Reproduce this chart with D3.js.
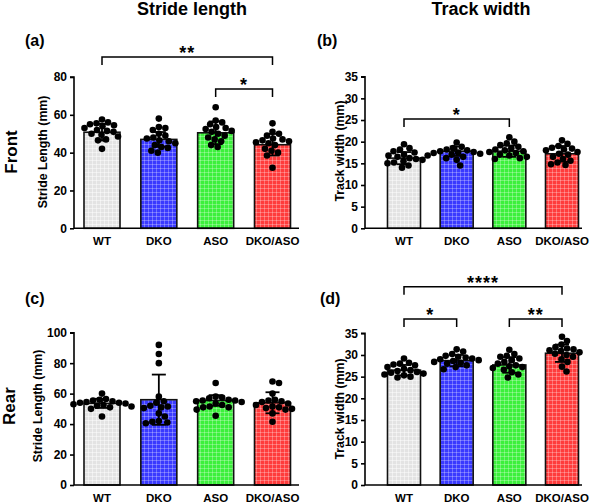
<!DOCTYPE html>
<html><head><meta charset="utf-8">
<script src="https://cdn.jsdelivr.net/npm/d3@7"></script>
<style>
body{margin:0;background:#fff;}
text{font-family:"Liberation Sans",Arial,sans-serif;font-weight:bold;fill:#000;}
</style></head>
<body><svg id="c" width="600" height="504"></svg>
<script>
// ---------- DATA ----------
const categories = ["WT", "DKO", "ASO", "DKO/ASO"];

// (a) Front stride length (mm)
const frontStridePoints = [
  [57.5, 56, 55.5, 55, 54.5, 54, 53, 52, 51.5, 51, 50, 49.5, 48.5, 47, 46.5, 42],
  [58, 53.5, 53, 52, 50, 49, 48, 47.5, 46.5, 46, 45, 44, 43, 42.5, 41, 40],
  [64, 57, 56, 55, 53.5, 53, 52.5, 51.5, 51, 50, 49, 48, 47, 46, 44, 43],
  [55.5, 51, 50, 49, 47.5, 47, 46.5, 46, 45.5, 45, 44, 42, 41, 40, 38.5, 32]
];
const frontStrideMean = [50.8, 47.0, 50.5, 44.2];
const frontStrideSD = [4.4, 3.9, 6.0, 5.7];

// (b) Front track width (mm)
const frontTrackPoints = [
  [19.4, 18.5, 18.2, 17.8, 17.5, 17, 16.8, 16.5, 16.2, 16, 15.8, 15.5, 15.2, 15, 14.5, 14],
  [19.8, 18.8, 18.5, 18.2, 18, 17.8, 17.6, 17.5, 17.4, 17.2, 17, 16.8, 16.5, 16.2, 15.8, 14.5],
  [21, 20, 19.6, 19.2, 18.8, 18.5, 18.2, 18, 17.8, 17.6, 17.4, 17, 16.8, 16.5, 16.2, 16],
  [20.3, 19.5, 19, 18.6, 18.4, 18.2, 18, 17.6, 17.2, 17, 16.5, 16, 15.6, 15.2, 14.8, 14.6]
];
const frontTrackMean = [16.2, 17.8, 17.8, 17.2];
const frontTrackSD = [1.4, 1.1, 1.3, 1.8];

// (c) Rear stride length (mm)
const rearStridePoints = [
  [60, 56.5, 56, 55.5, 55, 54.5, 54, 54, 53.5, 53, 52.5, 52, 51.5, 51, 50, 45],
  [92, 86, 80, 58, 55, 54, 52, 51.5, 51, 50.5, 47, 45, 42, 41.5, 41, 40.5],
  [67, 58, 57.5, 57, 56, 55.5, 55.5, 55, 54.5, 53.5, 52.5, 51.5, 51, 51, 49.5, 45.5],
  [68, 67, 60, 56, 55.5, 55, 54.5, 53.5, 52.5, 51.5, 51, 50.5, 50, 49.5, 47, 41.5]
];
const rearStrideMean = [53.6, 56.0, 55.5, 54.0];
const rearStrideSD = [3.0, 16.5, 3.5, 6.9];

// (d) Rear track width (mm)
const rearTrackPoints = [
  [29.2, 28.2, 28, 27.8, 27.6, 27.2, 26.8, 26.5, 26.3, 26.1, 25.9, 25.7, 25.5, 25.3, 25, 24.8],
  [31.3, 30.8, 30.2, 29.8, 29.6, 29.4, 29.2, 29, 28.8, 28.6, 28.4, 28.2, 28, 27.6, 27.2, 26.7],
  [31.2, 30.2, 29.8, 29.6, 29.2, 28.8, 28.4, 28, 27.6, 27.4, 27.2, 27, 26.6, 26, 25.5, 24.8],
  [34.2, 33.2, 32.4, 31.8, 31.5, 31.3, 31.1, 30.9, 30.6, 30.3, 30, 29.6, 29, 28.4, 27.3, 26.2]
];
const rearTrackMean = [26.5, 28.7, 27.7, 30.4];
const rearTrackSD = [1.2, 1.3, 1.8, 2.0];

const strideTicks = {front: [0, 20, 40, 60, 80], rear: [0, 20, 40, 60, 80, 100]};
const trackTicks = [0, 5, 10, 15, 20, 25, 30, 35];

// significance brackets: [fromIndex, toIndex, label, level]
const sigA = [[0, 3, "**", 0], [2, 3, "*", 1]];
const sigB = [[0, 2, "*", 0]];
const sigC = [];
const sigD = [[0, 3, "****", 0], [0, 1, "*", 1], [2, 3, "**", 1]];

// ---------- STYLE ----------
const fills = ["#e3e3e3", "#3a3aff", "#3cf03c", "#ff3c3c"];
const svg = d3.select("#c");
const defs = svg.append("defs");
fills.forEach((c, i) => {
  const p = defs.append("pattern").attr("id", "pat" + i)
    .attr("patternUnits", "userSpaceOnUse").attr("width", 4).attr("height", 4);
  p.append("rect").attr("width", 4).attr("height", 4).attr("fill", c);
  p.append("path").attr("d", "M0,0.5H4M0.5,0V4").attr("stroke", "#fff")
    .attr("stroke-width", 0.8).attr("stroke-opacity", i === 0 ? 0.6 : 0.35);
});

function panel(cfg) {
  const g = svg.append("g");
  const y = d3.scaleLinear().domain([0, cfg.max]).range([cfg.y0, cfg.y1]);
  const x = d3.scalePoint().domain(categories).range([cfg.c0, cfg.c1]);

  // bars
  g.selectAll("rect.bar").data(cfg.mean).enter().append("rect")
    .attr("x", (d, i) => x(categories[i]) - cfg.bw / 2)
    .attr("y", d => y(d))
    .attr("width", cfg.bw)
    .attr("height", d => y(0) - y(d))
    .attr("fill", (d, i) => "url(#pat" + i + ")")
    .attr("stroke", "#111").attr("stroke-width", 1.6);

  // dots (beeswarm)
  const r = 3.3;
  cfg.points.forEach((vals, i) => {
    const cx = x(categories[i]);
    const placed = [];
    vals.slice().sort((a, b) => b - a).forEach(v => {
      const py = y(v);
      let off = 0;
      for (let k = 0; k < 200; k++) {
        const cand = (k % 2 ? 1 : -1) * Math.ceil(k / 2) * 0.5;
        const ok = placed.every(p => Math.hypot(p[0] - cand, p[1] - py) >= 2 * r * 0.98);
        if (ok) { off = cand; break; }
      }
      placed.push([off, py]);
    });
    g.selectAll(null).data(placed).enter().append("circle")
      .attr("cx", p => cx + p[0]).attr("cy", p => p[1]).attr("r", r).attr("fill", "#000");
  });

  // error bars
  cfg.mean.forEach((m, i) => {
    const cx = x(categories[i]);
    const s = cfg.sd[i];
    const eg = g.append("g").attr("stroke", "#000").attr("stroke-width", 1.8);
    eg.append("line").attr("x1", cx).attr("x2", cx).attr("y1", y(m + s)).attr("y2", y(m - s));
    eg.append("line").attr("x1", cx - 7).attr("x2", cx + 7).attr("y1", y(m + s)).attr("y2", y(m + s));
    eg.append("line").attr("x1", cx - 7).attr("x2", cx + 7).attr("y1", y(m - s)).attr("y2", y(m - s));
  });

  // axes
  const ya = d3.axisLeft(y).tickValues(cfg.ticks).tickSize(4).tickPadding(3);
  const yg = g.append("g").attr("transform", `translate(${cfg.ax},0)`).call(ya);
  yg.select(".domain").attr("stroke-width", 1.6).attr("d", `M-4,${y(cfg.max)}H0V${y(0)}`);
  yg.selectAll(".tick line").attr("stroke-width", 1.6);
  yg.selectAll(".tick text").style("font-size", "12px").style("font-weight", "bold")
    .style("font-family", '"Liberation Sans",Arial,sans-serif');
  g.append("line").attr("x1", cfg.ax).attr("x2", cfg.axEnd).attr("y1", y(0)).attr("y2", y(0))
    .attr("stroke", "#000").attr("stroke-width", 1.6);
  g.selectAll("text.cat").data(categories).enter().append("text")
    .attr("x", d => x(d)).attr("y", y(0) + 17).attr("text-anchor", "middle")
    .style("font-size", "11.5px").text(d => d);
  // y label
  g.append("text").attr("transform", `translate(${cfg.lx},${cfg.ly}) rotate(-90)`)
    .attr("text-anchor", "middle").style("font-size", "12.3px").text(cfg.ylab);
  // panel letter
  g.append("text").attr("x", cfg.px).attr("y", cfg.py).style("font-size", "16px").text(cfg.letter);

  // brackets
  cfg.sig.forEach(s => {
    const by = cfg.sigY[s[3]];
    const xa = x(categories[s[0]]), xb = x(categories[s[1]]);
    g.append("path").attr("d", `M${xa},${by + 8}V${by}H${xb}V${by + 8}`)
      .attr("fill", "none").attr("stroke", "#000").attr("stroke-width", 1.5);
    g.append("text").attr("x", (xa + xb) / 2).attr("y", by + 2).attr("text-anchor", "middle")
      .style("font-size", "18px").attr("letter-spacing", "1px").text(s[2]);
  });
}

panel({points: frontStridePoints, mean: frontStrideMean, sd: frontStrideSD, max: 80, ticks: strideTicks.front,
  y0: 228.3, y1: 77, c0: 102, c1: 272.5, bw: 36, ax: 74, axEnd: 299, lx: 47, ly: 152,
  ylab: "Stride Length (mm)", letter: "(a)", px: 25, py: 46, sig: sigA, sigY: [57, 89]});
panel({points: frontTrackPoints, mean: frontTrackMean, sd: frontTrackSD, max: 35, ticks: trackTicks,
  y0: 228.3, y1: 76.7, c0: 404, c1: 562, bw: 33, ax: 365, axEnd: 582, lx: 344, ly: 151,
  ylab: "Track width (mm)", letter: "(b)", px: 317, py: 46, sig: sigB, sigY: [119]});
panel({points: rearStridePoints, mean: rearStrideMean, sd: rearStrideSD, max: 100, ticks: strideTicks.rear,
  y0: 485, y1: 332.7, c0: 102, c1: 272.5, bw: 36, ax: 74, axEnd: 299, lx: 42, ly: 406,
  ylab: "Stride Length (mm)", letter: "(c)", px: 25, py: 304, sig: sigC, sigY: []});
panel({points: rearTrackPoints, mean: rearTrackMean, sd: rearTrackSD, max: 35, ticks: trackTicks,
  y0: 485, y1: 333.3, c0: 404, c1: 562, bw: 33, ax: 365, axEnd: 582, lx: 344, ly: 409,
  ylab: "Track width (mm)", letter: "(d)", px: 320, py: 304, sig: sigD, sigY: [286.7, 319]});

// column / row titles
svg.append("text").attr("x", 192).attr("y", 15).attr("text-anchor", "middle").style("font-size", "18px").text("Stride length");
svg.append("text").attr("x", 481).attr("y", 15).attr("text-anchor", "middle").style("font-size", "18px").text("Track width");
svg.append("text").attr("transform", "translate(17,152) rotate(-90)").attr("text-anchor", "middle").style("font-size", "17px").text("Front");
svg.append("text").attr("transform", "translate(15,406) rotate(-90)").attr("text-anchor", "middle").style("font-size", "17px").text("Rear");
</script></body></html>
